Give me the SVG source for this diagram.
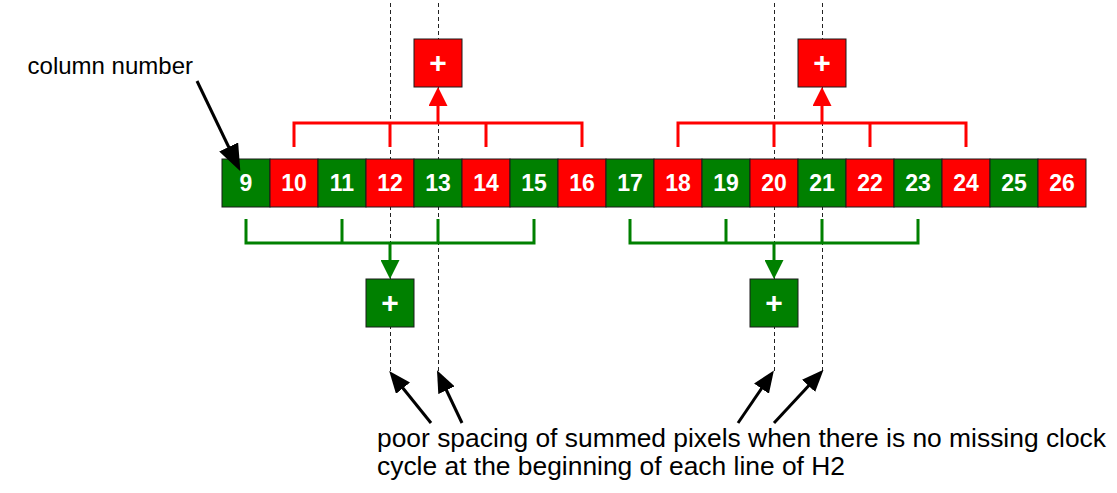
<svg xmlns="http://www.w3.org/2000/svg" width="1117" height="493" viewBox="0 0 1117 493">
<style>
.bg{fill:#ffffff}
.g{fill:#008000;stroke:#1a1a1a;stroke-width:1}
.r{fill:#ff0000;stroke:#1a1a1a;stroke-width:1}
.num{font-family:"Liberation Sans",Arial,sans-serif;font-weight:bold;font-size:23px;fill:#ffffff;text-anchor:middle}
.plus{font-family:"Liberation Sans",Arial,sans-serif;font-weight:bold;font-size:30px;fill:#ffffff;text-anchor:middle}
.lbl{font-family:"Liberation Sans",Arial,sans-serif;font-size:26.4px;fill:#000000}
.dash{stroke:#222222;stroke-width:1;stroke-dasharray:4 3;fill:none}
.rb{stroke:#ff0000;stroke-width:3;fill:none}
.gb{stroke:#008000;stroke-width:3;fill:none}
.bk{stroke:#000000;stroke-width:3;fill:none}
</style>
<defs>
<marker id="ar" viewBox="0 0 19 19" refX="6" refY="9.5" markerWidth="19" markerHeight="19" markerUnits="userSpaceOnUse" orient="auto"><path d="M0,0 L19,9.5 L0,19 z" fill="#ff0000"/></marker>
<marker id="ag" viewBox="0 0 19 19" refX="6" refY="9.5" markerWidth="19" markerHeight="19" markerUnits="userSpaceOnUse" orient="auto"><path d="M0,0 L19,9.5 L0,19 z" fill="#008000"/></marker>
<marker id="ak" viewBox="0 0 22 18" refX="8" refY="9" markerWidth="22" markerHeight="18" markerUnits="userSpaceOnUse" orient="auto"><path d="M0,0 L22,9 L0,18 z" fill="#000000"/></marker>
<marker id="ak2" viewBox="0 0 27 21" refX="10" refY="10.5" markerWidth="27" markerHeight="21" markerUnits="userSpaceOnUse" orient="auto"><path d="M0,0 L27,10.5 L0,21 z" fill="#000000"/></marker>
</defs>
<rect class="bg" x="0" y="0" width="1117" height="493"/>
<g id="guides">
<line class="dash" x1="390.5" y1="3" x2="390.5" y2="373"/>
<line class="dash" x1="438.5" y1="3" x2="438.5" y2="373"/>
<line class="dash" x1="774.5" y1="3" x2="774.5" y2="373"/>
<line class="dash" x1="822.5" y1="3" x2="822.5" y2="373"/>
</g>
<g id="cells">
<g id="c9"><rect class="g" x="222" y="159" width="48" height="48"/><text class="num" x="246" y="191">9</text></g>
<g id="c10"><rect class="r" x="270" y="159" width="48" height="48"/><text class="num" x="294" y="191">10</text></g>
<g id="c11"><rect class="g" x="318" y="159" width="48" height="48"/><text class="num" x="342" y="191">11</text></g>
<g id="c12"><rect class="r" x="366" y="159" width="48" height="48"/><text class="num" x="390" y="191">12</text></g>
<g id="c13"><rect class="g" x="414" y="159" width="48" height="48"/><text class="num" x="438" y="191">13</text></g>
<g id="c14"><rect class="r" x="462" y="159" width="48" height="48"/><text class="num" x="486" y="191">14</text></g>
<g id="c15"><rect class="g" x="510" y="159" width="48" height="48"/><text class="num" x="534" y="191">15</text></g>
<g id="c16"><rect class="r" x="558" y="159" width="48" height="48"/><text class="num" x="582" y="191">16</text></g>
<g id="c17"><rect class="g" x="606" y="159" width="48" height="48"/><text class="num" x="630" y="191">17</text></g>
<g id="c18"><rect class="r" x="654" y="159" width="48" height="48"/><text class="num" x="678" y="191">18</text></g>
<g id="c19"><rect class="g" x="702" y="159" width="48" height="48"/><text class="num" x="726" y="191">19</text></g>
<g id="c20"><rect class="r" x="750" y="159" width="48" height="48"/><text class="num" x="774" y="191">20</text></g>
<g id="c21"><rect class="g" x="798" y="159" width="48" height="48"/><text class="num" x="822" y="191">21</text></g>
<g id="c22"><rect class="r" x="846" y="159" width="48" height="48"/><text class="num" x="870" y="191">22</text></g>
<g id="c23"><rect class="g" x="894" y="159" width="48" height="48"/><text class="num" x="918" y="191">23</text></g>
<g id="c24"><rect class="r" x="942" y="159" width="48" height="48"/><text class="num" x="966" y="191">24</text></g>
<g id="c25"><rect class="g" x="990" y="159" width="48" height="48"/><text class="num" x="1014" y="191">25</text></g>
<g id="c26"><rect class="r" x="1038" y="159" width="48" height="48"/><text class="num" x="1062" y="191">26</text></g>
</g>
<g id="sumRed1"><rect class="r" x="414" y="39" width="48" height="48"/><text class="plus" x="438" y="73">+</text></g>
<g id="sumRed2"><rect class="r" x="798" y="39" width="48" height="48"/><text class="plus" x="822" y="73">+</text></g>
<g id="sumGreen1"><rect class="g" x="366" y="279" width="48" height="48"/><text class="plus" x="390" y="313">+</text></g>
<g id="sumGreen2"><rect class="g" x="750" y="279" width="48" height="48"/><text class="plus" x="774" y="313">+</text></g>
<g id="connectors">
<path class="rb" d="M294,147 V123 H582 V147 M390,123 V147 M486,123 V147"/>
<path class="rb" d="M438,123 V100" marker-end="url(#ar)"/>
<path class="rb" d="M678,147 V123 H966 V147 M774,123 V147 M870,123 V147"/>
<path class="rb" d="M822,123 V100" marker-end="url(#ar)"/>
<path class="gb" d="M246,219 V243 H534 V219 M342,243 V219 M438,243 V219"/>
<path class="gb" d="M390,243 V266" marker-end="url(#ag)"/>
<path class="gb" d="M630,219 V243 H918 V219 M726,243 V219 M822,243 V219"/>
<path class="gb" d="M774,243 V266" marker-end="url(#ag)"/>
<path class="bk" d="M197,81 L233,156" marker-end="url(#ak2)"/>
<path class="bk" d="M431,423 L398,382" marker-end="url(#ak)"/>
<path class="bk" d="M462,423 L443,383" marker-end="url(#ak)"/>
<path class="bk" d="M738,423 L766,382" marker-end="url(#ak)"/>
<path class="bk" d="M774,423 L814,380" marker-end="url(#ak)"/>
</g>
<g id="labelColumn"><text class="lbl" x="193" y="74" text-anchor="end" style="font-size:24px">column number</text></g>
<g id="labelNote"><text class="lbl" x="377" y="447">poor spacing of summed pixels when there is no missing clock</text><text class="lbl" x="377" y="475">cycle at the beginning of each line of H2</text></g>
</svg>
